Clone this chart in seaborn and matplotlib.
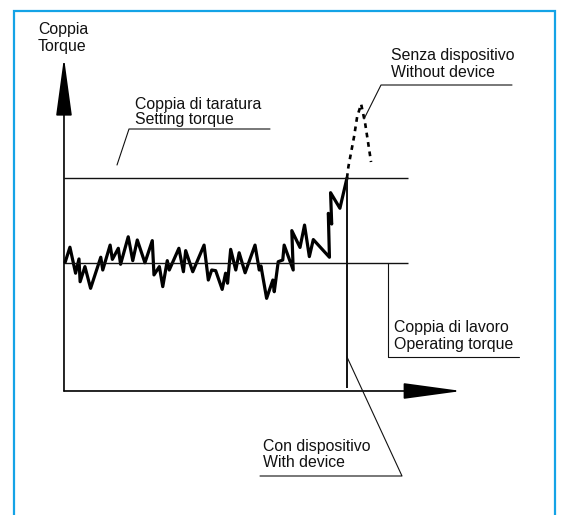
import pandas as pd
import matplotlib.pyplot as plt
from matplotlib.lines import Line2D
import seaborn as sns

# torque trace with the device (time: 0..100 where 100 = tripping moment, torque in % of setting)
time_with = [0.4, 2.1, 4.1, 5.3, 5.7, 7.4, 9.4, 13.0, 13.7, 16.3, 17.1, 19.2, 20.0, 22.7,
             24.3, 25.9, 28.6, 31.2, 31.8, 33.7, 34.9, 36.5, 37.2, 40.6, 42.2, 43.0, 45.5,
             49.5, 51.0, 52.2, 53.6, 55.9, 57.1, 57.8, 58.9, 60.7, 61.9, 64.0, 67.5, 69.0,
             69.6, 71.6, 73.8, 74.3, 75.7, 77.3, 77.8, 81.0, 80.5, 83.4, 85.0, 86.7, 88.1,
             93.8, 93.4, 94.6, 94.2, 97.5, 100.0]
torque_with = [60.4, 67.5, 55.3, 62.0, 51.3, 58.4, 48.2, 62.8, 56.8, 68.5, 61.8, 67.0, 59.5,
               72.4, 61.2, 70.9, 60.2, 70.6, 54.5, 58.4, 49.0, 61.2, 56.8, 67.0, 56.0, 65.9,
               56.0, 68.5, 52.1, 56.8, 56.5, 47.7, 55.3, 50.6, 66.5, 56.8, 64.9, 55.5, 68.5,
               56.8, 58.7, 43.5, 52.1, 46.6, 60.7, 61.5, 68.5, 56.8, 75.3, 67.4, 77.9, 63.1,
               71.1, 62.8, 83.4, 78.4, 93.1, 85.8, 100.0]

# torque peak without the device
time_without = [100.0, 100.5, 102.5, 103.6, 105.0, 106.4, 107.5, 108.5]
torque_without = [100.0, 105.3, 119.4, 128.8, 134.7, 125.8, 116.3, 107.5]

setting_torque = 100
operating_torque = 60
device_time = 100
line_end = 121.5

W, H = 563, 515


def fxy(x, y):
    # pixel position -> figure fraction (for labels and leader lines)
    return x / W, 1 - y / H


sns.set_style("white")
plt.rcParams["font.family"] = ["Liberation Sans", "DejaVu Sans"]

fig = plt.figure(figsize=(W / 100, H / 100), dpi=100)
ax = fig.add_axes([0, 0, 1, 1])
ax.set_xlim(-22.61, 176.33)
ax.set_ylim(-58.22, 183.57)
ax.axis("off")

df_with = pd.DataFrame({"time": time_with, "torque": torque_with})
df_without = pd.DataFrame({"time": time_without, "torque": torque_without})

sns.lineplot(data=df_with, x="time", y="torque", sort=False, estimator=None,
             color="black", lw=2.3, ax=ax)
sns.lineplot(data=df_without, x="time", y="torque", sort=False, estimator=None,
             color="black", lw=1.9, linestyle=(0, (1.8, 1.8)), ax=ax)

ax.hlines([setting_torque, operating_torque], 0, line_end, color="#111111", lw=1.0)
ax.vlines(device_time, 1.4, setting_torque, color="#111111", lw=1.4)

# axes with arrow heads
arrow = dict(arrowstyle="-|>,head_length=3.67,head_width=0.5", mutation_scale=10,
             color="black", lw=1.2, shrinkA=0, shrinkB=0)
ax.annotate("", xy=(140.5, 0), xytext=(0, 0), arrowprops=arrow)
ax.annotate("", xy=(0, 156.5), xytext=(0, 0), arrowprops=arrow)

# labels: text, left x, first baseline y, line step (px)
fs = 11.4
labels = [
    ("Coppia\nTorque", 38, 34, 17),
    ("Coppia di taratura\nSetting torque", 135, 109, 15.3),
    ("Senza dispositivo\nWithout device", 391, 60, 16.7),
    ("Coppia di lavoro\nOperating torque", 394, 332, 16.7),
    ("Con dispositivo\nWith device", 263, 451.5, 15.7),
]
for txt, x, y, step in labels:
    for i, line in enumerate(txt.split("\n")):
        fig.text(*fxy(x, y + i * step), line, fontsize=fs, ha="left",
                 va="baseline", color="#111111")

# leader lines
leaders = [
    [(117, 165), (129, 129), (270, 129)],
    [(364, 119), (381, 85), (512, 85)],
    [(388, 263), (388, 357), (519, 357)],
    [(347, 357), (402, 476), (260, 476)],
]
for pts in leaders:
    xs, ys = zip(*[fxy(x, y) for x, y in pts])
    fig.add_artist(Line2D(xs, ys, color="#111111", lw=0.8))

# blue frame (open at the bottom)
bx, by = zip(*[fxy(x, y) for x, y in [(14, 515), (14, 10.5), (555, 10.5), (555, 515)]])
fig.add_artist(Line2D(bx, by, color="#14A3E6", lw=1.6, solid_joinstyle="miter"))

fig.savefig("out.png", dpi=100)
